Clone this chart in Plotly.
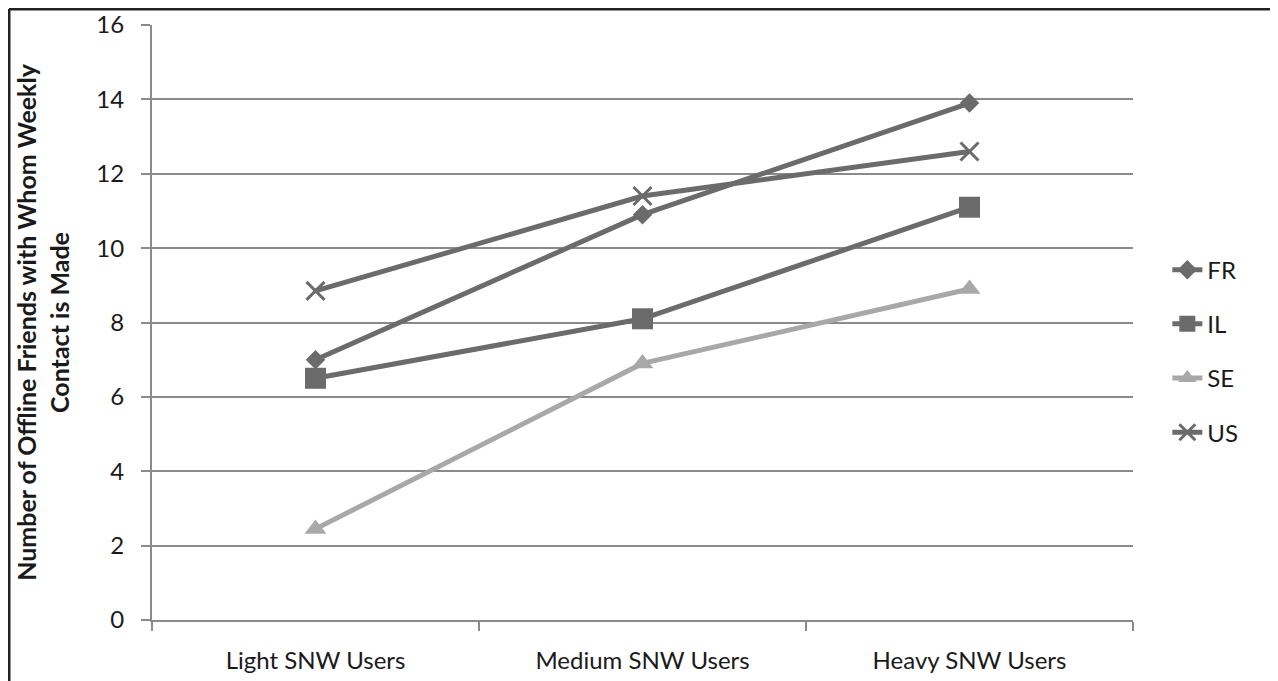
import plotly.graph_objects as go

categories = ["Light SNW Users", "Medium SNW Users", "Heavy SNW Users"]
fr = [7.0, 10.9, 13.9]
il = [6.5, 8.1, 11.1]
se = [2.45, 6.9, 8.9]
us = [8.85, 11.4, 12.6]
y_ticks = [0, 2, 4, 6, 8, 10, 12, 14, 16]

dark = "#6b6b6b"
light = "#a8a8a8"
grid = "#8a8a8a"
font = "Lato"

series = [
    ("FR", fr, dark, dict(symbol="diamond", size=15, color=dark)),
    ("IL", il, dark, dict(symbol="square", size=21, color=dark)),
    ("SE", se, light, dict(symbol="triangle-up", size=19, color=light)),
    ("US", us, dark, dict(symbol="x-thin", size=18, color=dark, line=dict(width=3, color=dark))),
]

fig = go.Figure()
for name, vals, col, mk in series:
    fig.add_trace(go.Scatter(
        x=categories, y=vals, name=name, mode="lines+markers",
        line=dict(color=col, width=5), marker=mk, legendgroup=name,
    ))

W, H = 1270, 673
L, T, PW, PH = 144, 17, 981, 595

fig.update_layout(
    width=W, height=H,
    margin=dict(l=L, r=W - L - PW, t=T, b=H - T - PH, autoexpand=False),
    paper_bgcolor="white", plot_bgcolor="white",
    font=dict(family=font, size=24, color="#1a1a1a"),
    showlegend=True,
    legend=dict(x=1.035, y=0.452, xanchor="left", yanchor="middle",
                traceorder="grouped", tracegroupgap=20,
                font=dict(size=24, family=font, color="#1a1a1a")),
    xaxis=dict(type="category", tickson="boundaries", ticks="outside", ticklen=9,
               tickcolor=grid, tickwidth=2, showline=True, linecolor=grid, linewidth=2,
               showgrid=False, range=[-0.5, 2.5], ticklabelstandoff=18, automargin=False,
               tickfont=dict(size=24, family=font)),
    yaxis=dict(range=[0, 16], tickvals=y_ticks, ticks="outside", ticklen=9,
               tickcolor=grid, tickwidth=2, showline=True, linecolor=grid, linewidth=2,
               showgrid=True, gridcolor=grid, gridwidth=2, zeroline=False,
               ticklabelstandoff=12, automargin=False,
               tickfont=dict(size=24, family=font),
               title=dict(text="<b>Number of Offline Friends with Whom Weekly<br>Contact is Made</b>",
                          font=dict(size=25, family=font), standoff=20)),
)

# frame lines (top and left)
x_left = (1 - L) / PW
y_top = (T + PH - 1) / PH
fig.add_shape(type="line", xref="paper", yref="paper", x0=x_left, x1=(W - L) / PW,
              y0=y_top, y1=y_top, line=dict(color="#222", width=3))
fig.add_shape(type="line", xref="paper", yref="paper", x0=x_left, x1=x_left,
              y0=y_top, y1=-(H - T - PH) / PH, line=dict(color="#222", width=3))

fig.write_html("out.html")
